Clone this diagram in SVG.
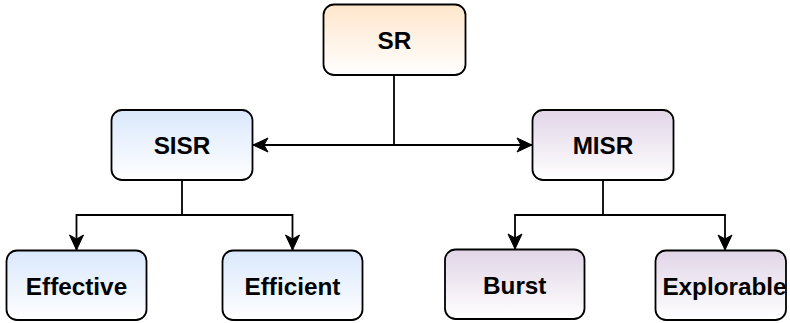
<svg xmlns="http://www.w3.org/2000/svg" width="790" height="323" viewBox="0 0 790 323">
  <defs>
    <linearGradient id="gOrange" x1="0" y1="0" x2="0" y2="1">
      <stop offset="0" stop-color="#ffe6cc"/>
      <stop offset="1" stop-color="#ffffff"/>
    </linearGradient>
    <linearGradient id="gBlue" x1="0" y1="0" x2="0" y2="1">
      <stop offset="0" stop-color="#dae8fc"/>
      <stop offset="1" stop-color="#ffffff"/>
    </linearGradient>
    <linearGradient id="gPurple" x1="0" y1="0" x2="0" y2="1">
      <stop offset="0" stop-color="#e1d5e7"/>
      <stop offset="1" stop-color="#ffffff"/>
    </linearGradient>
    <marker id="arrow" markerUnits="userSpaceOnUse" viewBox="-16 -8 17 16" refX="0" refY="0" markerWidth="17" markerHeight="16" orient="auto">
      <path d="M0,0 L-15,-7 L-11,0 L-15,7 Z" fill="#000" stroke="#000" stroke-width="1"/>
    </marker>
  </defs>
  <style>
    .box { stroke: #000; stroke-width: 1.8; }
    .lbl { font-family: "Liberation Sans", Arial, sans-serif; font-weight: bold; font-size: 24.3px; fill: #000; text-anchor: middle; }
    .edge { fill: none; stroke: #000; stroke-width: 1.8; }
  </style>

  <g id="connectors">
    <!-- SR to SISR / MISR -->
    <path class="edge" d="M394,75 V145 H253" marker-end="url(#arrow)"/>
    <path class="edge" d="M394,145 H532" marker-end="url(#arrow)"/>
    <!-- SISR children -->
    <path class="edge" d="M182,180 V215 H76.5 V250" marker-end="url(#arrow)"/>
    <path class="edge" d="M182,215 H292.5 V250" marker-end="url(#arrow)"/>
    <!-- MISR children -->
    <path class="edge" d="M603,180 V215 H515 V249" marker-end="url(#arrow)"/>
    <path class="edge" d="M603,215 H725 V250" marker-end="url(#arrow)"/>
  </g>

  <g id="node-sr">
    <rect class="box" x="323.5" y="4.5" width="142" height="70.5" rx="10.5" fill="url(#gOrange)"/>
    <text class="lbl" x="394.5" y="48.5">SR</text>
  </g>
  <g id="node-sisr">
    <rect class="box" x="111.5" y="110" width="141" height="70" rx="10.5" fill="url(#gBlue)"/>
    <text class="lbl" x="182" y="154">SISR</text>
  </g>
  <g id="node-misr">
    <rect class="box" x="532.5" y="110" width="141" height="70" rx="10.5" fill="url(#gPurple)"/>
    <text class="lbl" x="603" y="154">MISR</text>
  </g>
  <g id="node-effective">
    <rect class="box" x="6.5" y="250.5" width="140" height="69.5" rx="10.5" fill="url(#gBlue)"/>
    <text class="lbl" x="76.5" y="294.5">Effective</text>
  </g>
  <g id="node-efficient">
    <rect class="box" x="222.5" y="250.5" width="140" height="69.5" rx="10.5" fill="url(#gBlue)"/>
    <text class="lbl" x="292.5" y="294.5">Efficient</text>
  </g>
  <g id="node-burst">
    <rect class="box" x="445" y="249.5" width="139.5" height="69.5" rx="10.5" fill="url(#gPurple)"/>
    <text class="lbl" x="514.75" y="293.5">Burst</text>
  </g>
  <g id="node-explorable">
    <rect class="box" x="655.5" y="250.5" width="130.5" height="69.5" rx="10.5" fill="url(#gPurple)"/>
    <text class="lbl" x="724.5" y="294.5">Explorable</text>
  </g>
</svg>
